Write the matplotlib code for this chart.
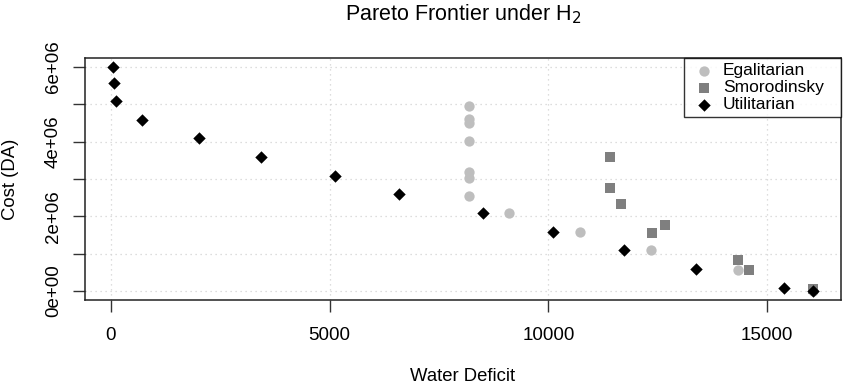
import matplotlib.pyplot as plt

plt.rcParams['font.family'] = ['Liberation Sans', 'DejaVu Sans']

# Utilitarian
util_x = [46, 75, 114, 700, 2016, 3432, 5114, 6591, 8501, 10099, 11719, 13386, 15388, 16050]
util_y = [5.99e6, 5.58e6, 5.08e6, 4.58e6, 4.09e6, 3.59e6, 3.09e6, 2.59e6, 2.09e6,
          1.59e6, 1.09e6, 0.59e6, 0.09e6, 0.0]

# Egalitarian
egal_x = [8196, 8196, 8196, 8196, 8196, 8196, 8196, 9094, 10715, 12352, 14338, 16050]
egal_y = [4.96e6, 4.61e6, 4.50e6, 4.02e6, 3.18e6, 3.04e6, 2.55e6, 2.09e6, 1.59e6,
          1.09e6, 0.55e6, 0.0]

# Smorodinsky
smor_x = [11416, 11416, 11667, 12664, 12374, 14338, 14589, 16050]
smor_y = [3.59e6, 2.75e6, 2.32e6, 1.77e6, 1.55e6, 0.84e6, 0.57e6, 0.05e6]

xticks = [0, 5000, 10000, 15000]
yticks = [0, 1e6, 2e6, 3e6, 4e6, 5e6, 6e6]
ylabels = ['0e+00', '', '2e+06', '', '4e+06', '', '6e+06']

W, H = 844, 386
fig = plt.figure(figsize=(W / 100, H / 100), dpi=100)
ax = fig.add_axes([85 / W, 1 - 300 / H, (841 - 85) / W, (300 - 58) / H])

ax.scatter(egal_x, egal_y, marker='o', s=55, color='#BEBEBE', linewidths=0, label='Egalitarian', zorder=3)
ax.scatter(smor_x, smor_y, marker='s', s=45, color='#7F7F7F', linewidths=0, label='Smorodinsky', zorder=3)
ax.scatter(util_x, util_y, marker='D', s=40, color='black', linewidths=0, label='Utilitarian', zorder=4)

ax.set_xlim(-594, 16690)
ax.set_ylim(-0.24e6, 6.24e6)

ax.set_xticks(xticks)
ax.set_xticklabels([str(t) for t in xticks])
ax.set_yticks(yticks)
ax.set_yticklabels(ylabels, rotation=90, va='center')
ax.tick_params(axis='both', labelsize=13.5, length=8.6, width=1, color='#333333')
ax.tick_params(axis='x', pad=10.5)
ax.tick_params(axis='y', pad=8)

for t in xticks:
    ax.axvline(t, color='#D3D3D3', linestyle=(0, (1, 3)), linewidth=0.9, zorder=1)
for t in yticks:
    ax.axhline(t, color='#D3D3D3', linestyle=(0, (1, 3)), linewidth=0.9, zorder=1)

for s in ax.spines.values():
    s.set_linewidth(1.1)
    s.set_color('#222222')

fig.text(463 / W, 1 - 20 / H, 'Pareto Frontier under H$_2$', fontsize=15.5,
         ha='center', va='baseline')
fig.text(463 / W, 1 - 385 / H, 'Water Deficit', fontsize=13.3, ha='center', va='bottom')
fig.text(10.5 / W, 1 - 179 / H, 'Cost (DA)', fontsize=13.3, rotation=90,
         ha='center', va='center')

x0 = (684 - 85) / (841 - 85)
leg = ax.legend(loc='upper right', bbox_to_anchor=(x0, 0, 1 - x0, 1), mode='expand',
                fontsize=12.5, frameon=True, fancybox=False,
                edgecolor='black', borderaxespad=0, handletextpad=0.26,
                labelspacing=0.1, borderpad=0.3, handlelength=1.67)
leg.get_frame().set_linewidth(1.0)

fig.savefig('out.png', dpi=100)
plt.close()
